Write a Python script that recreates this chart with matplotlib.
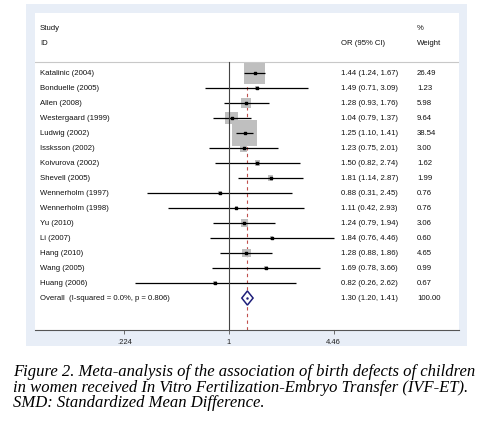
import numpy as np
import matplotlib.pyplot as plt
from matplotlib.patches import Rectangle, Polygon

studies = ["Katalinic (2004)", "Bonduelle (2005)", "Allen (2008)", "Westergaard (1999)",
           "Ludwig (2002)", "Issksson (2002)", "Koivurova (2002)", "Shevell (2005)",
           "Wennerholm (1997)", "Wennerholm (1998)", "Yu (2010)", "Li (2007)",
           "Hang (2010)", "Wang (2005)", "Huang (2006)"]
orr = [1.44, 1.49, 1.28, 1.04, 1.25, 1.23, 1.50, 1.81, 0.88, 1.11, 1.24, 1.84, 1.28, 1.69, 0.82]
lo = [1.24, 0.71, 0.93, 0.79, 1.10, 0.75, 0.82, 1.14, 0.31, 0.42, 0.79, 0.76, 0.88, 0.78, 0.26]
hi = [1.67, 3.09, 1.76, 1.37, 1.41, 2.01, 2.74, 2.87, 2.45, 2.93, 1.94, 4.46, 1.86, 3.66, 2.62]
weight = [26.49, 1.23, 5.98, 9.64, 38.54, 3.00, 1.62, 1.99, 0.76, 0.76, 3.06, 0.60, 4.65, 0.99, 0.67]
overall_label = "Overall  (I-squared = 0.0%, p = 0.806)"
overall = [1.30, 1.20, 1.41]
overall_w = "100.00"
xticks = [0.224, 1, 4.46]
xticklabels = [".224", "1", "4.46"]

W, H = 483, 441
plt.rcParams['font.family'] = ['Liberation Sans', 'DejaVu Sans']
fig = plt.figure(figsize=(W / 100, H / 100), dpi=100)

# light blue frame
fig.patches.append(Rectangle((26 / W, 1 - 346 / H), 441 / W, 342 / H,
                             transform=fig.transFigure, facecolor="#e8eef7",
                             edgecolor="none", zorder=-5))

ax = fig.add_axes([35 / W, 1 - 330 / H, 424 / W, 317 / H])
ax.set_zorder(1)
ax.set_facecolor("white")
ax.set_xscale("log")
ax.set_xlim(0.0626, 26.7)
ax.set_ylim(17.13, -4)
for s in ["top", "left", "right"]:
    ax.spines[s].set_visible(False)
ax.spines["bottom"].set_color("#555555")
ax.spines["bottom"].set_linewidth(0.8)
ax.set_xticks(xticks)
ax.set_xticklabels(xticklabels, fontsize=5.5, color="#222222")
ax.minorticks_off()
ax.tick_params(axis="x", length=3, width=0.6, color="#555555", pad=3.5)
ax.set_yticks([])

n = len(studies)
y = np.arange(n)
fs = 5.6
tc = "#111111"
tx = ax.get_yaxis_transform()

# header
ax.text(0.012, -2.95, "Study", transform=tx, fontsize=fs, va="center", color=tc)
ax.text(0.012, -2.0, "ID", transform=tx, fontsize=fs, va="center", color=tc)
ax.text(0.722, -2.0, "OR (95% CI)", transform=tx, fontsize=fs, va="center", color=tc)
ax.text(0.901, -2.95, "%", transform=tx, fontsize=fs, va="center", color=tc)
ax.text(0.901, -2.0, "Weight", transform=tx, fontsize=fs, va="center", color=tc)
ax.axhline(-0.75, color="#c8c8c8", lw=0.8)

# reference lines
frac = (17.13 - (-0.75)) / 21.13
ax.axvline(overall[0], ymin=0, ymax=frac, color="#c0504d", lw=0.8,
           ls=(0, (3, 3)), zorder=1)
ax.axvline(1, ymin=0, ymax=frac, color="#444444", lw=0.8, zorder=4)

# studies
ax.scatter(orr, y, marker="s", s=8.63 * np.array(weight), color="#bfbfbf",
           edgecolors="none", zorder=2)
ax.hlines(y, lo, hi, color="black", lw=0.9, zorder=3)
ax.scatter(orr, y, marker="s", s=4, color="black", zorder=5)

for i in range(n):
    ax.text(0.012, y[i], studies[i], transform=tx, fontsize=fs, va="center", color=tc)
    ax.text(0.722, y[i], "%.2f (%.2f, %.2f)" % (orr[i], lo[i], hi[i]),
            transform=tx, fontsize=fs, va="center", color=tc)
    ax.text(0.901, y[i], "%.2f" % weight[i], transform=tx, fontsize=fs,
            va="center", color=tc)

# overall
yo = n
ax.add_patch(Polygon([(overall[1], yo), (overall[0], yo - 0.47),
                      (overall[2], yo), (overall[0], yo + 0.47)],
                     closed=True, facecolor="white", edgecolor="#1f1f7a",
                     lw=1.1, zorder=5))
ax.scatter([overall[0]], [yo], marker="o", s=0.6, color="#1f1f7a", zorder=6)
ax.text(0.012, yo, overall_label, transform=tx, fontsize=fs, va="center", color=tc)
ax.text(0.722, yo, "%.2f (%.2f, %.2f)" % tuple(overall), transform=tx,
        fontsize=fs, va="center", color=tc)
ax.text(0.901, yo, overall_w, transform=tx, fontsize=fs, va="center", color=tc)

# caption
cap = ["Figure 2. Meta-analysis of the association of birth defects of children",
       "in women received In Vitro Fertilization-Embryo Transfer (IVF-ET).",
       "SMD: Standardized Mean Difference."]
for k, line in enumerate(cap):
    fig.text(13 / W, 1 - (372 + 15.5 * k) / H, line, fontsize=12.0,
             family="Liberation Serif", style="italic", va="center")

fig.savefig("out.png", dpi=100)
